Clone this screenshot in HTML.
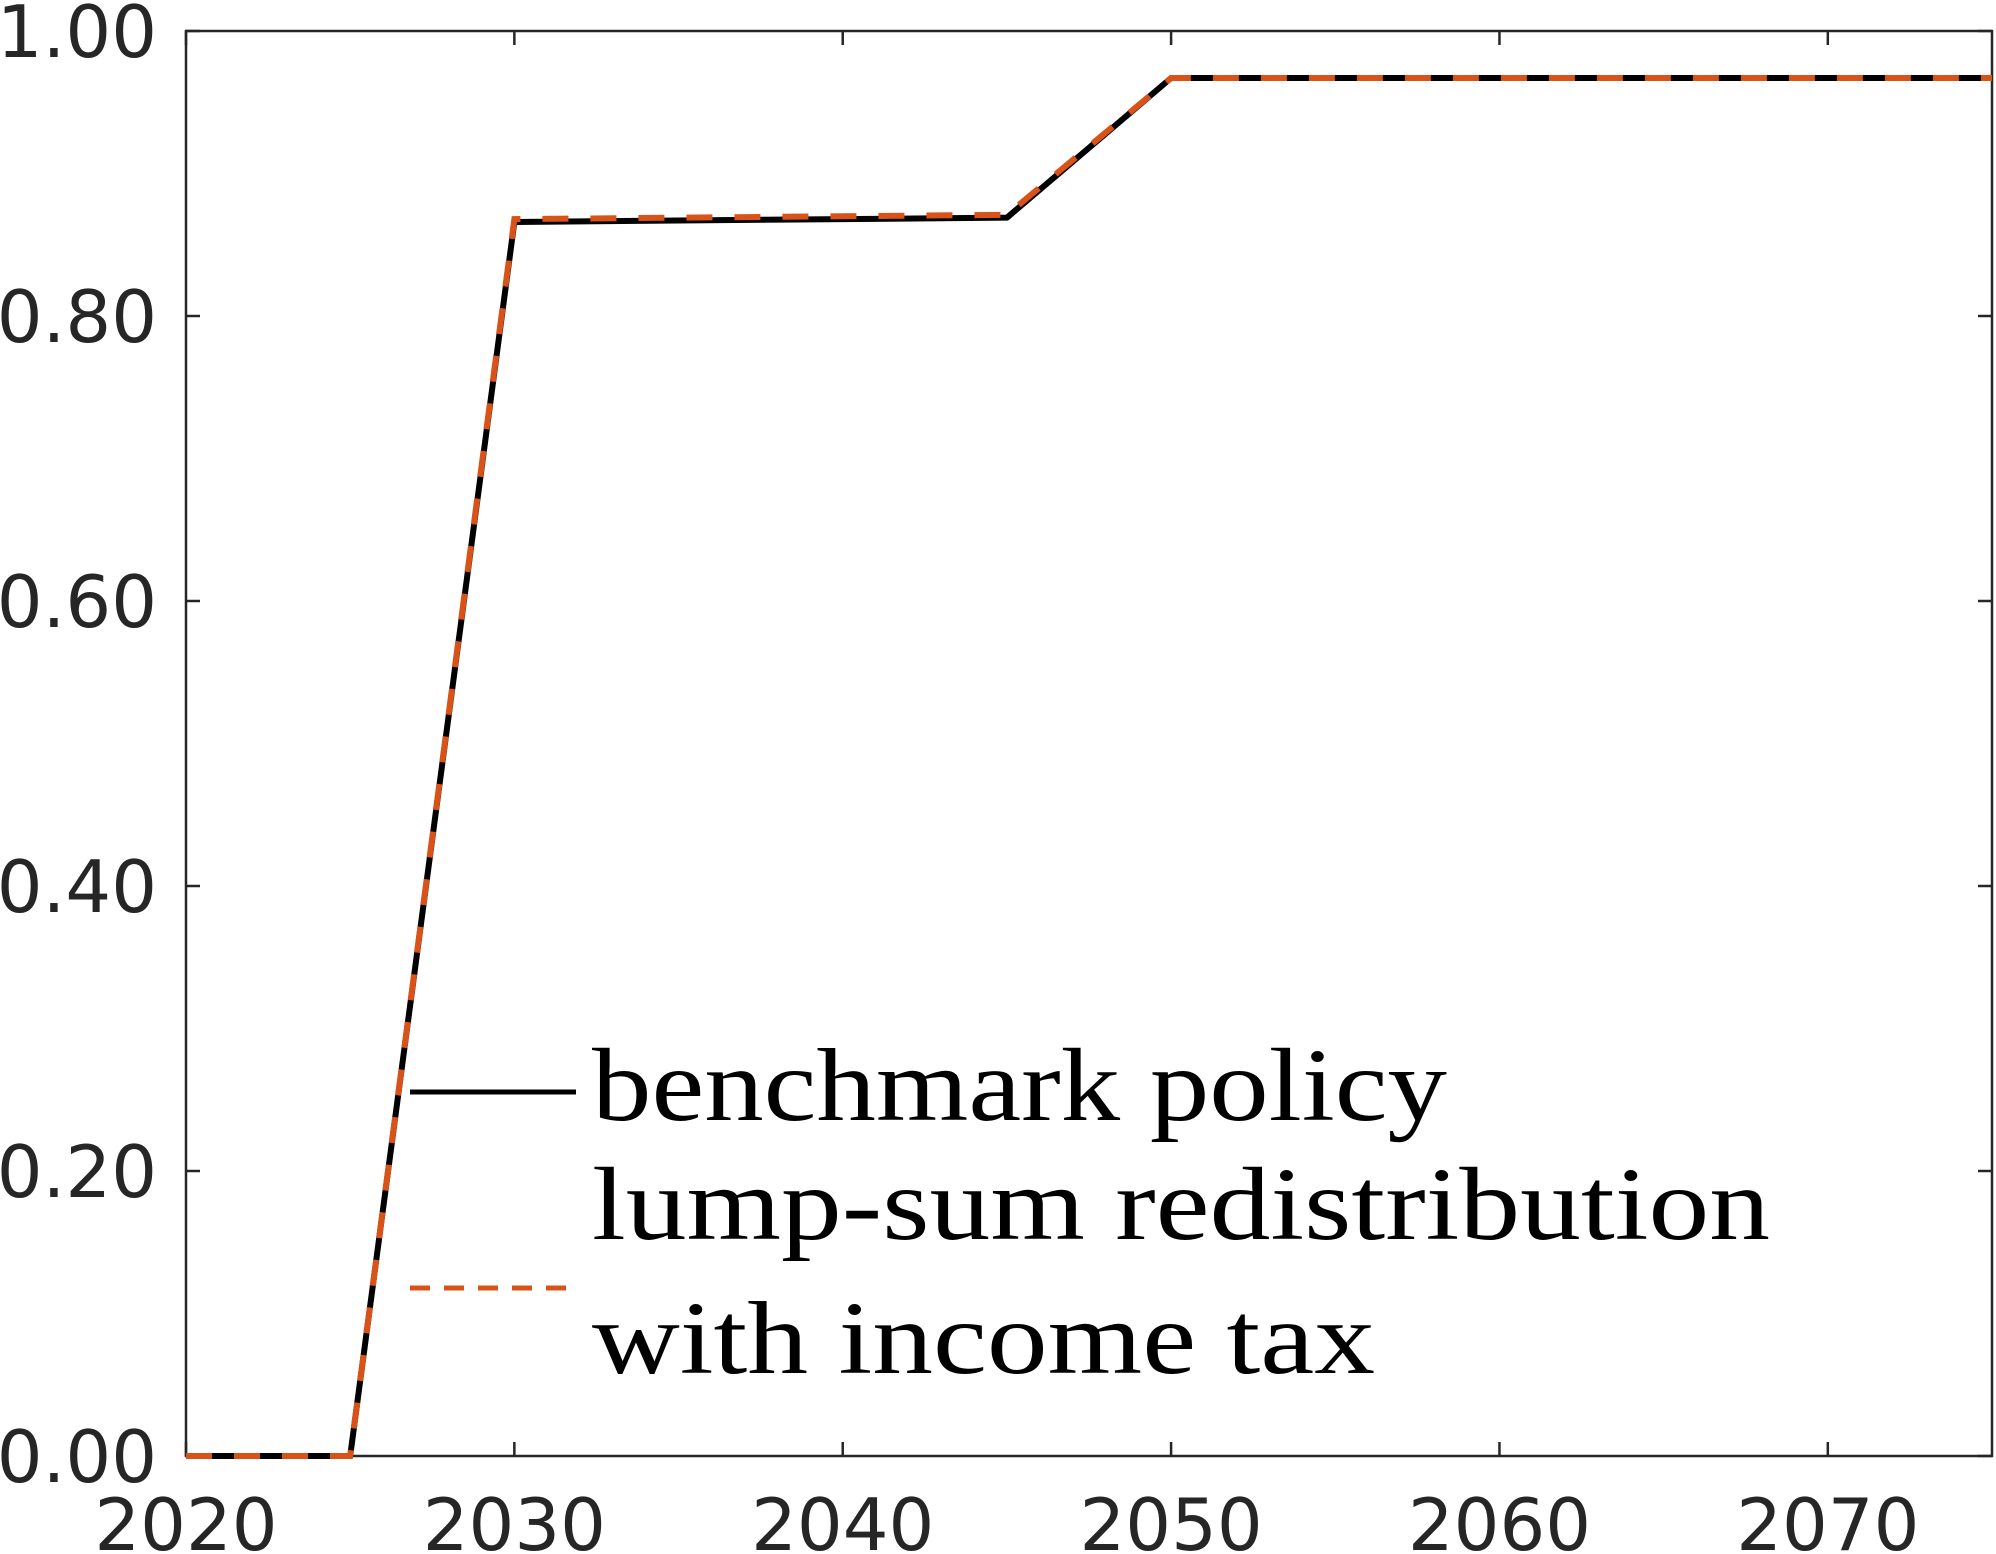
<!DOCTYPE html>
<html><head><meta charset="utf-8"><style>
html,body{margin:0;padding:0;background:#fff;}
svg{display:block;}
</style></head><body>
<svg id="chart" width="1996" height="1554" viewBox="0 0 1996 1554" xmlns="http://www.w3.org/2000/svg">
<g id="axes"></g>
<g id="series"></g>
<g id="legend">
  <line x1="410" y1="1092" x2="576" y2="1092" stroke="#000" stroke-width="5"/>
  <text x="592" y="1120" font-family="Liberation Serif, serif" font-size="104" textLength="855" lengthAdjust="spacingAndGlyphs" fill="#000">benchmark policy</text>
  <text x="592" y="1239" font-family="Liberation Serif, serif" font-size="104" textLength="1178" lengthAdjust="spacingAndGlyphs" fill="#000">lump-sum redistribution</text>
  <line x1="410" y1="1288" x2="576" y2="1288" stroke="#D95319" stroke-width="5" stroke-dasharray="20,14"/>
  <text x="592" y="1373" font-family="Liberation Serif, serif" font-size="104" textLength="783" lengthAdjust="spacingAndGlyphs" fill="#000">with income tax</text>
</g>
</svg>
<script>
const years = [2020, 2025, 2030, 2035, 2040, 2045, 2050, 2055, 2060, 2065, 2070, 2075];
const benchmark = [0, 0, 0.866, 0.867, 0.868, 0.869, 0.967, 0.967, 0.967, 0.967, 0.967, 0.967];
const incomeTax = [0, 0, 0.868, 0.869, 0.870, 0.871, 0.967, 0.967, 0.967, 0.967, 0.967, 0.967];
const xTicks = [2020, 2030, 2040, 2050, 2060, 2070];
const yTicks = [0, 0.2, 0.4, 0.6, 0.8, 1.0];
const yTickLabels = ["0.00", "0.20", "0.40", "0.60", "0.80", "1.00"];

const L = 186, R = 1992, T = 31, B = 1456;
const xMin = 2020, xMax = 2075, yMin = 0, yMax = 1;
function xs(v){ return L + (v - xMin) / (xMax - xMin) * (R - L); }
function ys(v){ return B - (v - yMin) / (yMax - yMin) * (B - T); }
const NS = "http://www.w3.org/2000/svg";
const axes = document.getElementById('axes');
const series = document.getElementById('series');

function mk(tag, attrs, parent){
  const e = document.createElementNS(NS, tag);
  for (const k in attrs) e.setAttribute(k, attrs[k]);
  parent.appendChild(e);
  return e;
}

const box = mk('rect', {x:L, y:T, width:R-L, height:B-T, fill:'none', stroke:'#262626', 'stroke-width':2.5}, axes);



xTicks.forEach((t) => {
  const x = xs(t);
  const tb = mk('line', {x1:x, y1:B, x2:x, y2:B-14, stroke:'#262626', 'stroke-width':2.5}, axes);
  
  
  const tt = mk('line', {x1:x, y1:T, x2:x, y2:T+14, stroke:'#262626', 'stroke-width':2.5}, axes);
  
  
  const lab = mk('text', {x:x, y:1550, 'text-anchor':'middle', 'font-family':'DejaVu Sans, Liberation Sans, sans-serif', 'font-size':72, fill:'#262626'}, axes);
  lab.textContent = t;
  
  
});

yTicks.forEach((t, i) => {
  const y = ys(t);
  const tl = mk('line', {x1:L, y1:y, x2:L+14, y2:y, stroke:'#262626', 'stroke-width':2.5}, axes);
  
  
  const tr = mk('line', {x1:R, y1:y, x2:R-14, y2:y, stroke:'#262626', 'stroke-width':2.5}, axes);
  
  
  const lab = mk('text', {x:157, y:y+26, 'text-anchor':'end', 'font-family':'DejaVu Sans, Liberation Sans, sans-serif', 'font-size':72, fill:'#262626'}, axes);
  lab.textContent = yTickLabels[i];
  
  
});

function pts(vals){ return years.map((y, i) => xs(y) + ',' + ys(vals[i])).join(' '); }
const l1 = mk('polyline', {points:pts(benchmark), fill:'none', stroke:'#000', 'stroke-width':6, 'stroke-linejoin':'round'}, series);


const l2 = mk('polyline', {points:pts(incomeTax), fill:'none', stroke:'#D95319', 'stroke-width':6, 'stroke-dasharray':'26,22'}, series);


</script>
</body></html>
